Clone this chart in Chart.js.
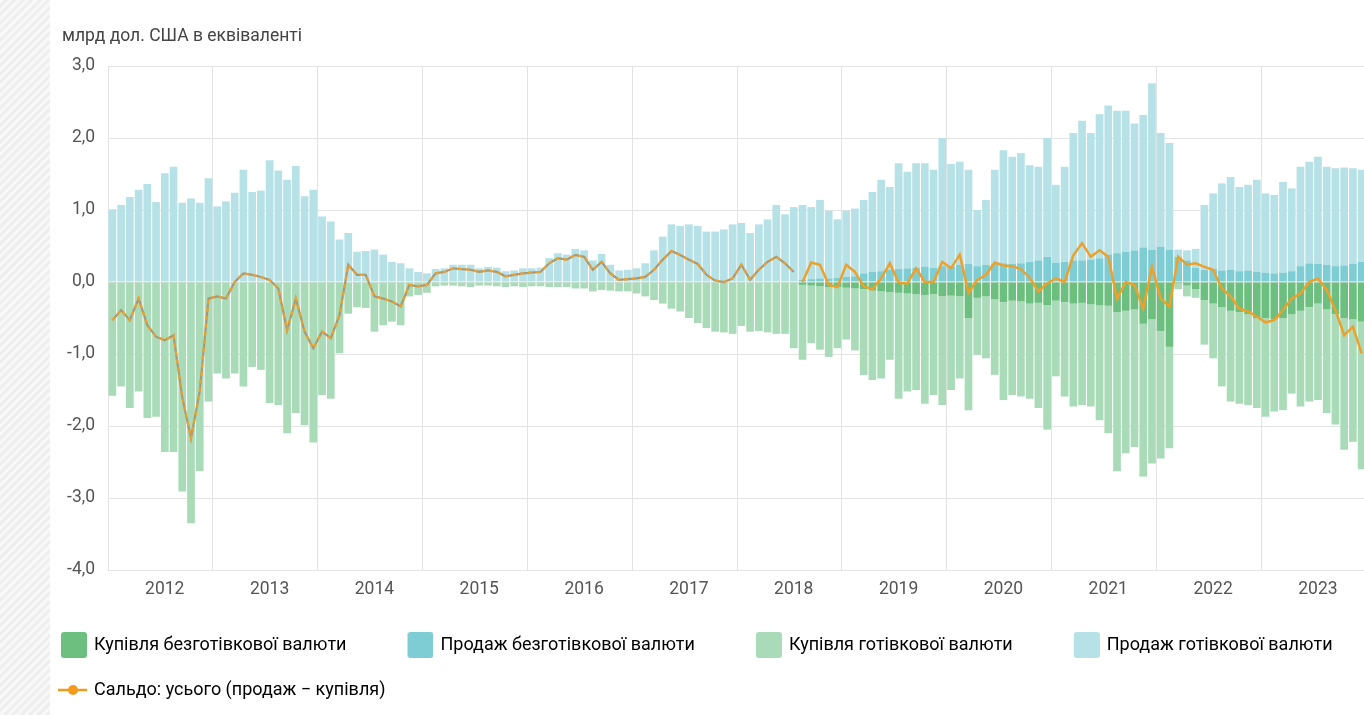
<!DOCTYPE html>
<html lang="uk">
<head>
<meta charset="utf-8">
<script src="https://cdn.jsdelivr.net/npm/chart.js@4.4.1/dist/chart.umd.min.js"></script>
<style>
  html, body { margin: 0; padding: 0; overflow: hidden; }
  body {
    width: 1364px; height: 715px; position: relative;
    background: repeating-linear-gradient(135deg, #f8f8f8 0 3px, #eeeeee 3px 6px);
  }
  #card { position: absolute; left: 50px; top: 0; right: 0; bottom: 0; background: #fff; }
  #chart { position: absolute; left: 0; top: 0; }
</style>
</head>
<body>
<div id="card"></div>
<canvas id="chart" width="1392" height="715"></canvas>
<script>
// роки на осі (по 12 місяців у кожному)
const years = [2012, 2013, 2014, 2015, 2016, 2017, 2018, 2019, 2020, 2021, 2022, 2023];

const unitText = 'млрд дол. США в еквіваленті';

// готівкова валюта, з січня 2012
const cashSale = [
  1.01, 1.07, 1.18, 1.28, 1.36, 1.11, 1.51, 1.60, 1.10, 1.16, 1.10, 1.44,
  1.05, 1.12, 1.24, 1.56, 1.25, 1.27, 1.69, 1.55, 1.42, 1.61, 1.19, 1.28,
  0.91, 0.84, 0.59, 0.68, 0.42, 0.43, 0.45, 0.38, 0.28, 0.26, 0.19, 0.14,
  0.12, 0.18, 0.19, 0.24, 0.24, 0.24, 0.19, 0.21, 0.20, 0.15, 0.16, 0.19,
  0.19, 0.20, 0.33, 0.40, 0.38, 0.46, 0.44, 0.30, 0.39, 0.24, 0.16, 0.17,
  0.19, 0.26, 0.44, 0.63, 0.80, 0.78, 0.80, 0.78, 0.70, 0.70, 0.73, 0.80,
  0.82, 0.68, 0.80, 0.87, 1.07, 0.94, 1.04, 1.04, 1.00, 1.09, 0.94, 0.81,
  0.92, 0.94, 1.02, 1.11, 1.27, 1.15, 1.47, 1.34, 1.45, 1.44, 1.36, 1.78,
  1.42, 1.43, 1.31, 0.78, 0.90, 1.31, 1.57, 1.49, 1.53, 1.34, 1.30, 1.65,
  1.08, 1.32, 1.77, 1.94, 1.76, 2.00, 2.07, 1.98, 1.96, 1.76, 1.84, 2.31,
  1.58, 1.48, 0.10, 0.14, 0.26, 0.90, 1.05, 1.21, 1.29, 1.17, 1.19, 1.28,
  1.10, 1.09, 1.26, 1.15, 1.38, 1.41, 1.49, 1.36, 1.36, 1.36, 1.33, 1.28
];
const cashBuy = [
  -1.58, -1.45, -1.75, -1.52, -1.89, -1.87, -2.36, -2.36, -2.91, -3.35, -2.63, -1.66,
  -1.27, -1.34, -1.27, -1.45, -1.18, -1.22, -1.68, -1.71, -2.10, -1.82, -1.99, -2.23,
  -1.57, -1.62, -0.99, -0.44, -0.35, -0.36, -0.69, -0.60, -0.55, -0.60, -0.20, -0.18,
  -0.15, -0.06, -0.05, -0.05, -0.06, -0.07, -0.05, -0.05, -0.06, -0.07, -0.06, -0.07,
  -0.06, -0.06, -0.07, -0.07, -0.07, -0.09, -0.09, -0.13, -0.11, -0.12, -0.13, -0.13,
  -0.16, -0.20, -0.25, -0.30, -0.37, -0.41, -0.50, -0.57, -0.64, -0.69, -0.70, -0.72,
  -0.61, -0.69, -0.68, -0.70, -0.72, -0.72, -0.92, -1.04, -0.80, -0.88, -0.97, -0.85,
  -0.72, -0.86, -1.19, -1.24, -1.21, -0.94, -1.47, -1.36, -1.33, -1.51, -1.40, -1.51,
  -1.31, -1.14, -1.28, -0.79, -0.86, -1.05, -1.36, -1.31, -1.32, -1.32, -1.46, -1.73,
  -1.05, -1.31, -1.43, -1.42, -1.42, -1.60, -1.77, -2.21, -1.98, -1.91, -2.12, -2.00,
  -1.77, -1.41, -0.08, -0.15, -0.12, -0.62, -0.76, -1.10, -1.26, -1.27, -1.26, -1.25,
  -1.37, -1.28, -1.28, -1.10, -1.33, -1.31, -1.34, -1.44, -1.53, -1.83, -1.70, -2.05
];

// безготівкова валюта, дані з серпня 2018
const cashlessStart = 79;
const cashlessSale = [
  0.03, 0.04, 0.05, 0.05, 0.06,
  0.07, 0.08, 0.12, 0.14, 0.15, 0.17, 0.18, 0.19, 0.20, 0.21, 0.20, 0.22,
  0.22, 0.24, 0.25, 0.22, 0.24, 0.25, 0.26, 0.25, 0.26, 0.28, 0.30, 0.35,
  0.27, 0.28, 0.30, 0.30, 0.31, 0.33, 0.38, 0.40, 0.42, 0.44, 0.48, 0.45,
  0.49, 0.45, 0.35, 0.30, 0.20, 0.17, 0.18, 0.16, 0.17, 0.15, 0.16, 0.14,
  0.13, 0.12, 0.13, 0.15, 0.22, 0.26, 0.25, 0.24, 0.22, 0.23, 0.25, 0.28
];
const cashlessBuy = [
  -0.04, -0.05, -0.06, -0.07, -0.07,
  -0.08, -0.09, -0.10, -0.12, -0.13, -0.14, -0.15, -0.16, -0.17, -0.18, -0.17, -0.20,
  -0.19, -0.20, -0.50, -0.22, -0.20, -0.24, -0.28, -0.26, -0.27, -0.30, -0.29, -0.32,
  -0.26, -0.28, -0.30, -0.29, -0.31, -0.32, -0.33, -0.42, -0.40, -0.38, -0.58, -0.52,
  -0.68, -0.90, -0.02, -0.05, -0.10, -0.25, -0.30, -0.35, -0.40, -0.42, -0.45, -0.50,
  -0.50, -0.52, -0.50, -0.45, -0.40, -0.35, -0.30, -0.38, -0.45, -0.50, -0.52, -0.55
];

// сальдо: до липня 2018 (пунктир) і з серпня 2018 (суцільна)
const saldoOld = [
  -0.53, -0.39, -0.53, -0.23, -0.60, -0.76, -0.81, -0.74, -1.60, -2.17, -1.52, -0.23,
  -0.20, -0.23, 0.00, 0.12, 0.10, 0.07, 0.03, -0.09, -0.67, -0.23, -0.69, -0.92,
  -0.69, -0.78, -0.46, 0.24, 0.10, 0.10, -0.20, -0.23, -0.27, -0.34, -0.04, -0.06,
  -0.04, 0.12, 0.14, 0.19, 0.18, 0.17, 0.14, 0.16, 0.14, 0.08, 0.10, 0.12,
  0.13, 0.14, 0.26, 0.33, 0.31, 0.375, 0.35, 0.17, 0.28, 0.12, 0.03, 0.04,
  0.05, 0.07, 0.17, 0.31, 0.43, 0.375, 0.31, 0.25, 0.10, 0.02, 0.00, 0.05,
  0.24, 0.03, 0.17, 0.28, 0.35, 0.26, 0.14
];
const saldoNew = [
  0.00, 0.27, 0.24, -0.04, -0.07,
  0.24, 0.14, -0.06, -0.10, 0.05, 0.26, -0.01, -0.02, 0.19, 0.00, 0.00, 0.28,
  0.19, 0.38, -0.15, 0.03, 0.10, 0.27, 0.23, 0.22, 0.18, 0.06, -0.13, -0.02,
  0.05, 0.00, 0.37, 0.54, 0.35, 0.44, 0.35, -0.23, 0.00, -0.04, -0.37, 0.21,
  -0.23, -0.34, 0.35, 0.24, 0.26, 0.21, 0.17, -0.09, -0.20, -0.37, -0.41, -0.48,
  -0.56, -0.53, -0.39, -0.23, -0.16, 0.00, 0.05, -0.11, -0.39, -0.74, -0.62, -0.99
];

const labels = [];
years.forEach(y => { for (let m = 1; m <= 12; m++) labels.push(y + '-' + String(m).padStart(2, '0')); });

const lead = Array(cashlessStart).fill(null);
const tail = Array(labels.length - saldoOld.length).fill(null);

const gridColor = '#e3e3e3';
const colCashlessBuy = '#6cbf7e';
const colCashlessSale = '#7fcdd4';
const colCashBuy = '#a9dbb8';
const colCashSale = '#b6e1e6';
const colSaldo = '#eda02a';

// значки легенди (зліва прозорий відступ)
function legendBox(color) {
  const c = document.createElement('canvas');
  c.width = 62; c.height = 26;
  const g = c.getContext('2d');
  g.fillStyle = color;
  g.beginPath();
  g.roundRect(36, 0, 26, 26, 3);
  g.fill();
  return c;
}
function legendLine(color) {
  const c = document.createElement('canvas');
  c.width = 62; c.height = 12;
  const g = c.getContext('2d');
  g.strokeStyle = color; g.lineWidth = 2.5;
  g.beginPath(); g.moveTo(33, 6); g.lineTo(62, 6); g.stroke();
  g.fillStyle = color;
  g.beginPath(); g.arc(48, 6, 5, 0, Math.PI * 2); g.fill();
  return c;
}

const unitLabel = {
  id: 'unitLabel',
  afterDraw(chart) {
    const ctx = chart.ctx;
    ctx.save();
    ctx.font = '17.5px Roboto';
    ctx.fillStyle = '#444';
    ctx.textBaseline = 'middle';
    ctx.fillText(unitText, chart.chartArea.left - 46, 37);
    ctx.restore();
  }
};

Chart.defaults.font.family = 'Roboto';
Chart.defaults.font.size = 17.5;

const barBase = { type: 'bar', stack: 'fx', order: 1, borderWidth: 0, barPercentage: 0.88, categoryPercentage: 1 };

new Chart(document.getElementById('chart'), {
  type: 'bar',
  data: {
    labels: labels,
    datasets: [
      { ...barBase, label: 'Купівля безготівкової валюти', data: lead.concat(cashlessBuy), backgroundColor: colCashlessBuy, legendIcon: legendBox(colCashlessBuy) },
      { ...barBase, label: 'Продаж безготівкової валюти', data: lead.concat(cashlessSale), backgroundColor: colCashlessSale, legendIcon: legendBox(colCashlessSale) },
      { ...barBase, label: 'Купівля готівкової валюти', data: cashBuy, backgroundColor: colCashBuy, legendIcon: legendBox(colCashBuy) },
      { ...barBase, label: 'Продаж готівкової валюти', data: cashSale, backgroundColor: colCashSale, legendIcon: legendBox(colCashSale) },
      {
        type: 'line', label: 'Сальдо: усього (продаж − купівля)', stack: 's1', order: 0,
        data: lead.concat(saldoNew), borderColor: colSaldo, borderWidth: 2.5,
        pointRadius: 0, tension: 0, legendIcon: legendLine('#f39a1c')
      },
      // пунктирна частина: сіра основа + помаранчеві штрихи
      {
        type: 'line', label: 'old', stack: 's2', order: 0,
        data: saldoOld.concat(tail), borderColor: '#a8987a', borderWidth: 2.2,
        pointRadius: 0, tension: 0
      },
      {
        type: 'line', label: 'old-dash', stack: 's3', order: -1,
        data: saldoOld.concat(tail), borderColor: colSaldo, borderWidth: 2.2,
        borderDash: [4, 4], pointRadius: 0, tension: 0
      }
    ]
  },
  options: {
    responsive: false,
    animation: false,
    layout: { padding: { left: 0, right: 6, top: 66, bottom: 6 } },
    scales: {
      x: {
        stacked: true,
        offset: true,
        grid: {
          offset: true,
          drawTicks: false,
          color: c => (c.index % 12 === 0 ? gridColor : 'rgba(0,0,0,0)')
        },
        border: { display: false },
        ticks: {
          autoSkip: false, maxRotation: 0, minRotation: 0, padding: 9, color: '#555',
          callback: (v, i) => (i % 12 === 6 ? String(years[Math.floor(i / 12)]) : '')
        },
        afterFit: s => { s.height = 39; }
      },
      y: {
        stacked: true,
        min: -4, max: 3,
        grid: { color: gridColor, drawTicks: false },
        border: { display: false },
        ticks: {
          stepSize: 1, padding: 13, color: '#555',
          callback: v => v.toFixed(1).replace('.', ',')
        },
        afterFit: s => { s.width = 108; }
      },
      // порожня права вісь: місце для легенди за межами видимої області
      yR: {
        position: 'right',
        grid: { display: false },
        border: { display: false },
        ticks: { display: false },
        afterFit: s => { s.width = 20; }
      }
    },
    plugins: {
      tooltip: { enabled: false },
      legend: {
        position: 'bottom',
        align: 'start',
        labels: {
          usePointStyle: true,
          pointStyleWidth: 58,
          padding: 27,
          color: '#333',
          font: { size: 18 },
          generateLabels: chart => chart.data.datasets
            .map((ds, i) => ({ ds, i }))
            .filter(o => o.ds.legendIcon)
            .map(o => ({
              text: o.ds.label,
              pointStyle: o.ds.legendIcon,
              fillStyle: 'transparent',
              strokeStyle: 'transparent',
              lineWidth: 0,
              hidden: false,
              datasetIndex: o.i
            }))
        }
      }
    }
  },
  plugins: [unitLabel]
});
</script>
</body>
</html>
